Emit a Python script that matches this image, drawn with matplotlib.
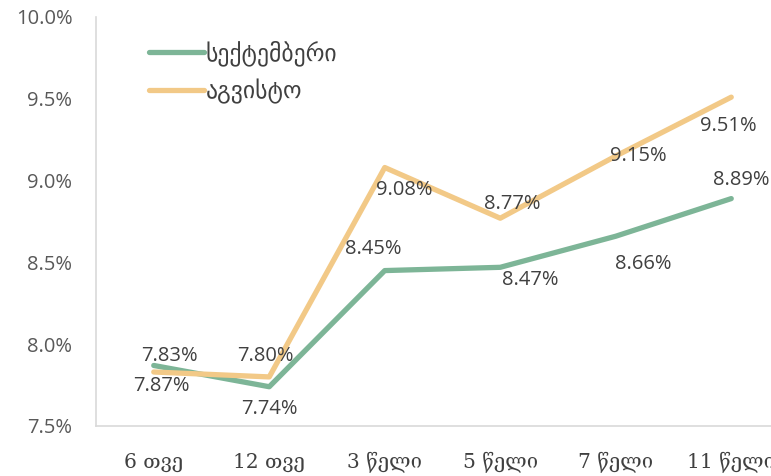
import matplotlib
matplotlib.use("Agg")
import matplotlib.pyplot as plt
from matplotlib.ticker import FuncFormatter

# data
categories = ["6 თვე", "12 თვე", "3 წელი", "5 წელი", "7 წელი", "11 წელი"]
september = [7.87, 7.74, 8.45, 8.47, 8.66, 8.89]
august = [7.83, 7.80, 9.08, 8.77, 9.15, 9.51]
series_names = ["სექტემბერი", "აგვისტო"]

# label offsets in pixels (dx, dy), y up
sep_offsets = [(8, -21), (0, -22), (-11, 22), (30, -13), (28, -28), (10, 19)]
aug_offsets = [(16, 16), (-4, 21), (20, -22), (12, 14), (23, 0), (-3, -29)]

GREEN = "#7db597"
ORANGE = "#f2c987"
TXT = "#404040"
NUMFONT = ["Open Sans", "DejaVu Sans"]

fig = plt.figure(figsize=(7.71, 4.76), dpi=100, facecolor="white")
ax = fig.add_axes([96 / 771, 1 - 426 / 476, 693 / 771, 409 / 476])

x = list(range(len(categories)))
ax.plot(x, september, color=GREEN, linewidth=3.8, solid_capstyle="round",
        solid_joinstyle="round", label=series_names[0])
ax.plot(x, august, color=ORANGE, linewidth=3.8, solid_capstyle="round",
        solid_joinstyle="round", label=series_names[1])

for vals, offs in ((september, sep_offsets), (august, aug_offsets)):
    for xi, v, (dx, dy) in zip(x, vals, offs):
        ax.annotate(f"{v:.2f}%", (xi, v), xytext=(dx, dy),
                    textcoords="offset pixels", ha="center", va="center",
                    fontsize=14.5, color=TXT, family=NUMFONT)

ax.set_xlim(-0.5, 5.5)
ax.set_ylim(7.5, 10.0)
ax.set_yticks([7.5, 8.0, 8.5, 9.0, 9.5, 10.0])
ax.yaxis.set_major_formatter(FuncFormatter(lambda v, p: f"{v:.1f}%"))
for t in ax.get_yticklabels():
    t.set_family(NUMFONT)
ax.set_xticks(x)
ax.set_xticklabels(categories, family=["DejaVu Serif", "DejaVu Sans"],
                   fontsize=14.5, color=TXT)
ax.tick_params(axis="y", length=0, pad=17, labelsize=14.5, labelcolor="#595959")
ax.tick_params(axis="x", length=0, pad=19)

for side in ("top", "right"):
    ax.spines[side].set_visible(False)
for side in ("left", "bottom"):
    ax.spines[side].set_color("#d9d9d9")
    ax.spines[side].set_linewidth(1.2)

leg = ax.legend(loc="upper left", bbox_to_anchor=(128 / 771, 1 - 19 / 476),
                bbox_transform=fig.transFigure, frameon=False, fontsize=17,
                handlelength=2.3, handletextpad=0.1, labelspacing=0.55)
for t in leg.get_texts():
    t.set_color(TXT)

fig.savefig("out.png", dpi=100, facecolor="white")
